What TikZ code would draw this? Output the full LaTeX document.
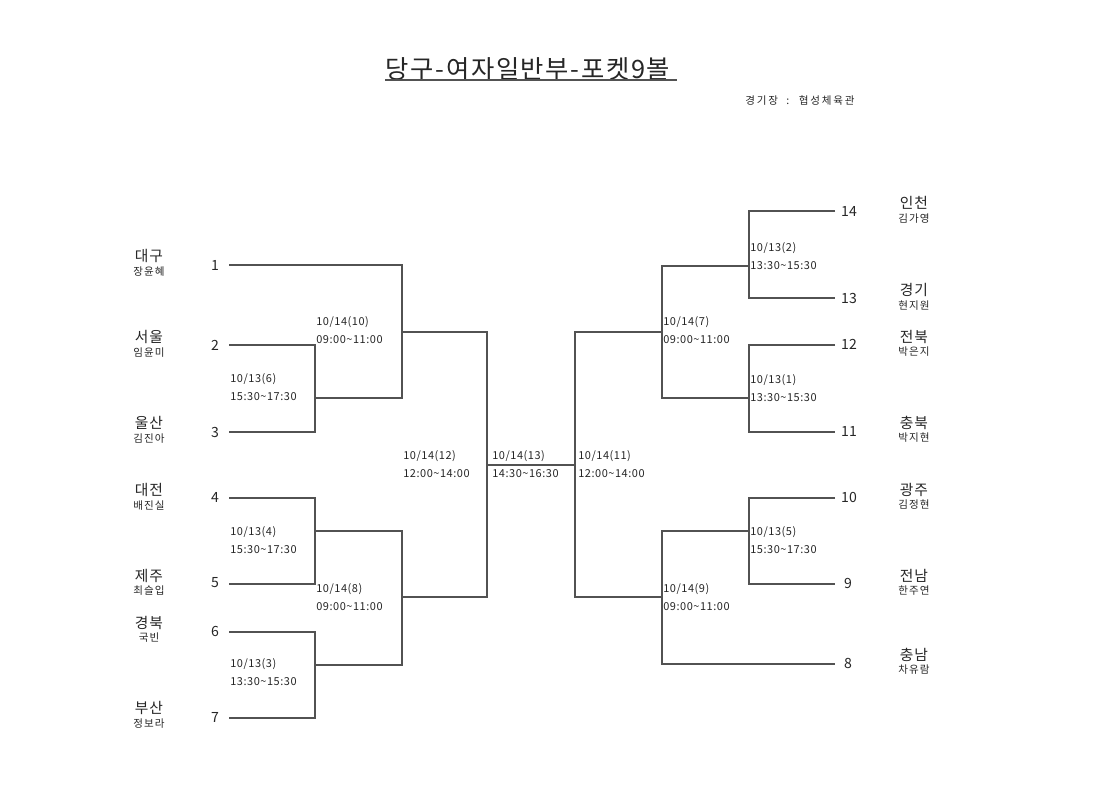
\documentclass[tikz,border=0pt]{standalone}
\usepackage{fontspec}
\setmainfont{Noto Sans CJK KR}
\begin{document}
\begin{tikzpicture}[x=0.025cm,y=-0.025cm,
  br/.style={draw=black!68, line width=0.85pt},
  seednum/.style={font=\fontsize{10}{12}\selectfont, text=black!85, inner sep=0pt},
  team/.style={font=\fontsize{10.5}{12}\selectfont\addfontfeature{LetterSpace=6}, text=black!85, inner sep=0pt},
  player/.style={font=\fontsize{7.5}{9}\selectfont\addfontfeature{LetterSpace=10}, text=black!85, inner sep=0pt},
  info/.style={font=\fontsize{7.8}{12.4}\selectfont\addfontfeature{LetterSpace=5}, text=black!85, inner sep=0pt, anchor=west, align=left}]
\useasboundingbox (0,0) rectangle (1120,791);
\fill[white] (0,0) rectangle (1120,791);

% title
\node[font=\fontsize{18}{20}\selectfont\addfontfeature{LetterSpace=6.5}, text=black!85, inner sep=0pt] (title) at (528,69) {당구-여자일반부-포켓9볼};
\coordinate (ul1) at (385,80);
\coordinate (ul2) at (677,80);
\draw[br] (ul1) -- (ul2);
\node[font=\fontsize{7.5}{9}\selectfont\addfontfeature{LetterSpace=17}, text=black!85, inner sep=0pt, anchor=west] (venue) at (745,101) {경기장 \ : \ 협성체육관};

% seed numbers (left)
\node[seednum] (n1) at (215,265) {1};
\node[seednum] (n2) at (215,345) {2};
\node[seednum] (n3) at (215,432) {3};
\node[seednum] (n4) at (215,497) {4};
\node[seednum] (n5) at (215,583) {5};
\node[seednum] (n6) at (215,631) {6};
\node[seednum] (n7) at (215,717) {7};
% seed numbers (right)
\node[seednum] (n14) at (849,211) {14};
\node[seednum] (n13) at (849,298) {13};
\node[seednum] (n12) at (849,344) {12};
\node[seednum] (n11) at (849,431) {11};
\node[seednum] (n10) at (849,497) {10};
\node[seednum] (n9) at (848,583) {9};
\node[seednum] (n8) at (848,663) {8};

% teams left
\node[team] (t1) at (149,256) {대구};   \node[player] (q1) at (149,272) {장윤혜};
\node[team] (t2) at (149,337) {서울};   \node[player] (q2) at (149,353) {임윤미};
\node[team] (t3) at (149,423) {울산};   \node[player] (q3) at (149,439) {김진아};
\node[team] (t4) at (149,490) {대전};   \node[player] (q4) at (149,506) {배진실};
\node[team] (t5) at (149,576) {제주};   \node[player] (q5) at (149,591) {최슬입};
\node[team] (t6) at (149,623) {경북};   \node[player] (q6) at (149,638) {국빈};
\node[team] (t7) at (149,708) {부산};   \node[player] (q7) at (149,724) {정보라};
% teams right
\node[team] (t14) at (914,203) {인천};  \node[player] (q14) at (914,219) {김가영};
\node[team] (t13) at (914,290) {경기};  \node[player] (q13) at (914,306) {현지원};
\node[team] (t12) at (914,337) {전북};  \node[player] (q12) at (914,352) {박은지};
\node[team] (t11) at (914,423) {충북};  \node[player] (q11) at (914,438) {박지현};
\node[team] (t10) at (914,490) {광주};  \node[player] (q10) at (914,505) {김정현};
\node[team] (t9) at (914,576) {전남};   \node[player] (q9) at (914,591) {한주연};
\node[team] (t8) at (914,655) {충남};   \node[player] (q8) at (914,670) {차유람};

% line ends of seeds
\coordinate (p1) at (229,265);
\coordinate (p2) at (229,345);
\coordinate (p3) at (229,432);
\coordinate (p4) at (229,498);
\coordinate (p5) at (229,584);
\coordinate (p6) at (229,632);
\coordinate (p7) at (229,718);
\coordinate (p14) at (835,211);
\coordinate (p13) at (835,298);
\coordinate (p12) at (835,345);
\coordinate (p11) at (835,432);
\coordinate (p10) at (835,498);
\coordinate (p9) at (835,584);
\coordinate (p8) at (835,664);

% match junctions
\coordinate (m6) at (315,398);
\coordinate (m4) at (315,531);
\coordinate (m3) at (315,665);
\coordinate (m10) at (402,332);
\coordinate (m8) at (402,597);
\coordinate (m12) at (487,465);
\coordinate (m11) at (575,465);
\coordinate (m7) at (662,332);
\coordinate (m9) at (662,597);
\coordinate (m2) at (749,266);
\coordinate (m1) at (749,398);
\coordinate (m5) at (749,531);

% bracket lines
\draw[br] (p2) -| (m6) |- (p3);
\draw[br] (p1) -| (m10) |- (m6);
\draw[br] (p4) -| (m4) |- (p5);
\draw[br] (p6) -| (m3) |- (p7);
\draw[br] (m4) -| (m8) |- (m3);
\draw[br] (m10) -| (m12) |- (m8);
\draw[br] (m12) -- (m11);
\draw[br] (m7) -| (m11) |- (m9);
\draw[br] (m2) -| (m7) |- (m1);
\draw[br] (p14) -| (m2) |- (p13);
\draw[br] (p12) -| (m1) |- (p11);
\draw[br] (m5) -| (m9) |- (p8);
\draw[br] (p10) -| (m5) |- (p9);

% match info
\node[info] (i6) at (230,387) {10/13(6)\\15:30\textasciitilde 17:30};
\node[info] (i10) at (316,330) {10/14(10)\\09:00\textasciitilde 11:00};
\node[info] (i4) at (230,540) {10/13(4)\\15:30\textasciitilde 17:30};
\node[info] (i8) at (316,597) {10/14(8)\\09:00\textasciitilde 11:00};
\node[info] (i3) at (230,672) {10/13(3)\\13:30\textasciitilde 15:30};
\node[info] (i12) at (403,464) {10/14(12)\\12:00\textasciitilde 14:00};
\node[info] (i13) at (492,464) {10/14(13)\\14:30\textasciitilde 16:30};
\node[info] (i11) at (578,464) {10/14(11)\\12:00\textasciitilde 14:00};
\node[info] (i2) at (750,256) {10/13(2)\\13:30\textasciitilde 15:30};
\node[info] (i7) at (663,330) {10/14(7)\\09:00\textasciitilde 11:00};
\node[info] (i1) at (750,388) {10/13(1)\\13:30\textasciitilde 15:30};
\node[info] (i5) at (750,540) {10/13(5)\\15:30\textasciitilde 17:30};
\node[info] (i9) at (663,597) {10/14(9)\\09:00\textasciitilde 11:00};
\end{tikzpicture}
\end{document}
